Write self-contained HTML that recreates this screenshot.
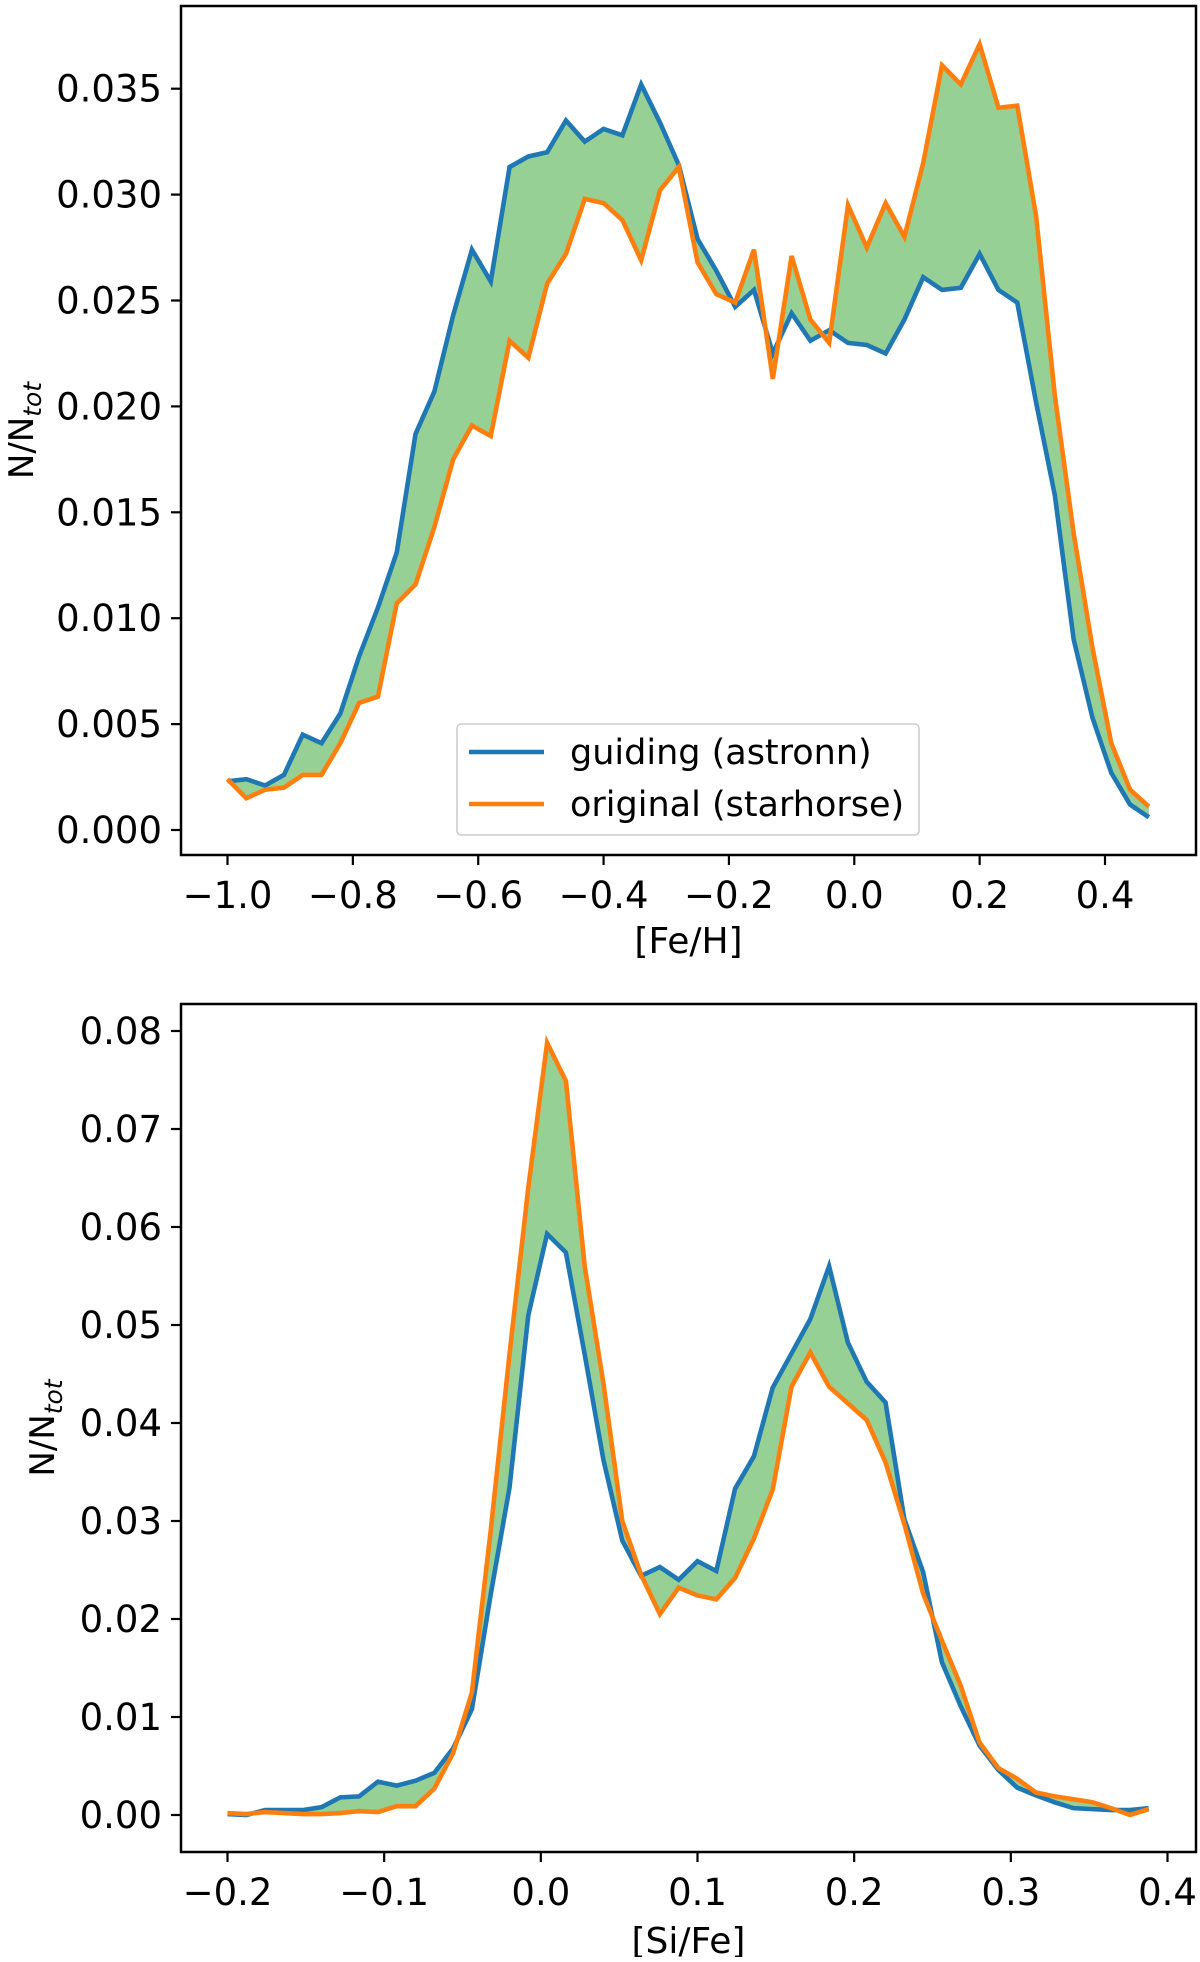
<!DOCTYPE html>
<html><head><meta charset="utf-8"><style>
body{margin:0;background:#fff}
svg text{font-family:"DejaVu Sans","Liberation Sans",sans-serif;fill:#000}
</style></head><body>
<svg id="fig" width="1200" height="1957" viewBox="0 0 1200 1957" xmlns="http://www.w3.org/2000/svg"></svg>
<script>
// ---- Panel 1: [Fe/H] ----
const feX0 = -1.0;
const feStep = 0.03;
const feGuiding = [0.0023,0.0024,0.0021,0.0026,0.0045,0.0041,0.0055,0.0082,0.0105,0.0131,0.0187,0.0207,0.0243,0.0274,0.0259,0.0313,0.0318,0.0320,0.0335,0.0325,0.0331,0.0328,0.0352,0.0334,0.0314,0.0279,0.0264,0.0247,0.0255,0.0225,0.0244,0.0231,0.0236,0.0230,0.0229,0.0225,0.0241,0.0261,0.0255,0.0256,0.0272,0.0255,0.0249,0.0202,0.0158,0.0090,0.0053,0.0027,0.0012,0.0006];
const feOriginal = [0.0024,0.0015,0.0019,0.0020,0.0026,0.0026,0.0041,0.0060,0.0063,0.0107,0.0116,0.0143,0.0175,0.0191,0.0186,0.0231,0.0223,0.0258,0.0272,0.0298,0.0296,0.0288,0.0269,0.0302,0.0313,0.0268,0.0253,0.0249,0.0274,0.0213,0.0271,0.0241,0.0230,0.0295,0.0275,0.0296,0.0280,0.0315,0.0361,0.0352,0.0371,0.0341,0.0342,0.0290,0.0205,0.0140,0.0086,0.0041,0.0019,0.0011];
const feXTicks = [-1.0,-0.8,-0.6,-0.4,-0.2,0.0,0.2,0.4];
const feYTicks = [0,0.005,0.010,0.015,0.020,0.025,0.030,0.035];
// ---- Panel 2: [Si/Fe] ----
const siX0 = -0.2;
const siStep = 0.012;
const siGuiding = [0.0001,0.0000,0.0005,0.0005,0.0005,0.0008,0.0018,0.0019,0.0034,0.0030,0.0035,0.0043,0.0068,0.0108,0.0225,0.0334,0.0510,0.0593,0.0574,0.0470,0.0362,0.0280,0.0244,0.0253,0.0240,0.0259,0.0249,0.0333,0.0366,0.0436,0.0471,0.0506,0.0560,0.0482,0.0442,0.0421,0.0302,0.0248,0.0156,0.0111,0.0071,0.0046,0.0028,0.0020,0.0013,0.0007,0.0006,0.0005,0.0005,0.0007];
const siOriginal = [0.0002,0.0001,0.0003,0.0002,0.0001,0.0001,0.0002,0.0004,0.0003,0.0009,0.0009,0.0027,0.0063,0.0125,0.0290,0.0470,0.0640,0.0788,0.0749,0.0560,0.0440,0.0300,0.0245,0.0205,0.0232,0.0224,0.0220,0.0242,0.0282,0.0332,0.0437,0.0472,0.0437,0.0420,0.0403,0.0360,0.0297,0.0226,0.0178,0.0132,0.0074,0.0048,0.0037,0.0023,0.0019,0.0016,0.0013,0.0007,0.0000,0.0006];
const siXTicks = [-0.2,-0.1,0.0,0.1,0.2,0.3,0.4];
const siYTicks = [0,0.01,0.02,0.03,0.04,0.05,0.06,0.07,0.08];

const NS="http://www.w3.org/2000/svg";
const svg=document.getElementById('fig');
function mk(tag,attrs,parent){const e=document.createElementNS(NS,tag);for(const k in attrs)e.setAttribute(k,attrs[k]);(parent||svg).appendChild(e);return e;}
function fmtMinus(s){return s.replace('-','\u2212');}

function panel(cfg){
  const g=mk('g',{});
  
  
  const sx=v=>cfg.xpx0+(v-cfg.xv0)*cfg.xscale;
  const sy=v=>cfg.ypx0-v*cfg.yscale;
  const xs=cfg.g.map((_,i)=>cfg.x0+i*cfg.step);
  let pts=xs.map((x,i)=>sx(x)+','+sy(cfg.g[i]));
  let rpts=xs.map((x,i)=>sx(x)+','+sy(cfg.o[i])).reverse();
  const fill=mk('polygon',{points:pts.concat(rpts).join(' '),fill:'#96d095',stroke:'none'},g);
  
  
  const lb=mk('polyline',{points:pts.join(' '),fill:'none',stroke:'#1f77b4','stroke-width':4.6},g);
  
  
  const lo=mk('polyline',{points:xs.map((x,i)=>sx(x)+','+sy(cfg.o[i])).join(' '),fill:'none',stroke:'#ff7f0e','stroke-width':4.6},g);
  
  
  const fr=mk('rect',{x:cfg.L,y:cfg.T,width:cfg.R-cfg.L,height:cfg.B-cfg.T,fill:'none',stroke:'#000','stroke-width':2.5},g);
  
  
  cfg.xt.forEach(v=>{
    const x=sx(v);
    const t=mk('line',{x1:x,x2:x,y1:cfg.B,y2:cfg.B+10,stroke:'#000','stroke-width':2.2},g);
    
    
    const tx=mk('text',{x:x,y:cfg.B+53,'font-size':37,'text-anchor':'middle'},g);
    tx.textContent=fmtMinus(v.toFixed(1));
    
    
  });
  cfg.yt.forEach(v=>{
    const y=sy(v);
    const t=mk('line',{x1:cfg.L-10,x2:cfg.L,y1:y,y2:y,stroke:'#000','stroke-width':2.2},g);
    
    
    const tx=mk('text',{x:cfg.L-19,y:y+13,'font-size':37,'text-anchor':'end'},g);
    tx.textContent=v.toFixed(cfg.yd);
    
    
  });
  const xl=mk('text',{x:(cfg.L+cfg.R)/2,y:cfg.xlY,'font-size':36,'text-anchor':'middle'},g);
  xl.textContent=cfg.xlabel;
  
  
  const yl=mk('text',{x:0,y:0,'font-size':34,'text-anchor':'middle',transform:`translate(${cfg.ylX},${(cfg.T+cfg.B)/2}) rotate(-90)`},g);
  yl.innerHTML='N/N<tspan font-style="italic" font-size="25" dy="8">tot</tspan>';
  
  
  return g;
}

panel({name:'feh-panel',x0:feX0,step:feStep,g:feGuiding,o:feOriginal,xt:feXTicks,yt:feYTicks,yd:3,
  L:181,R:1196,T:6,B:855,xv0:-1.0,xpx0:227.5,xscale:(1105-227.5)/1.4,ypx0:830,yscale:105.9/0.005,
  xlabel:'[Fe/H]',xlY:953,ylX:33});
panel({name:'sife-panel',x0:siX0,step:siStep,g:siGuiding,o:siOriginal,xt:siXTicks,yt:siYTicks,yd:2,
  L:181,R:1196,T:1004,B:1852,xv0:-0.2,xpx0:227.5,xscale:(1167.5-227.5)/0.6,ypx0:1815,yscale:98/0.01,
  xlabel:'[Si/Fe]',xlY:1953,ylX:54});

// legend
const lg=mk('g',{});


mk('rect',{x:457,y:724,width:462,height:111,rx:4,fill:'#fff','fill-opacity':0.8,stroke:'#ccc','stroke-width':1.5},lg);
const e1=mk('g',{},lg);


mk('line',{x1:469,x2:544,y1:752,y2:752,stroke:'#1f77b4','stroke-width':4.6},e1);
const t1=mk('text',{x:570,y:764,'font-size':35},e1);t1.textContent='guiding (astronn)';
const e2=mk('g',{},lg);


mk('line',{x1:469,x2:544,y1:804,y2:804,stroke:'#ff7f0e','stroke-width':4.6},e2);
const t2=mk('text',{x:570,y:816,'font-size':35},e2);t2.textContent='original (starhorse)';
</script>
</body></html>
